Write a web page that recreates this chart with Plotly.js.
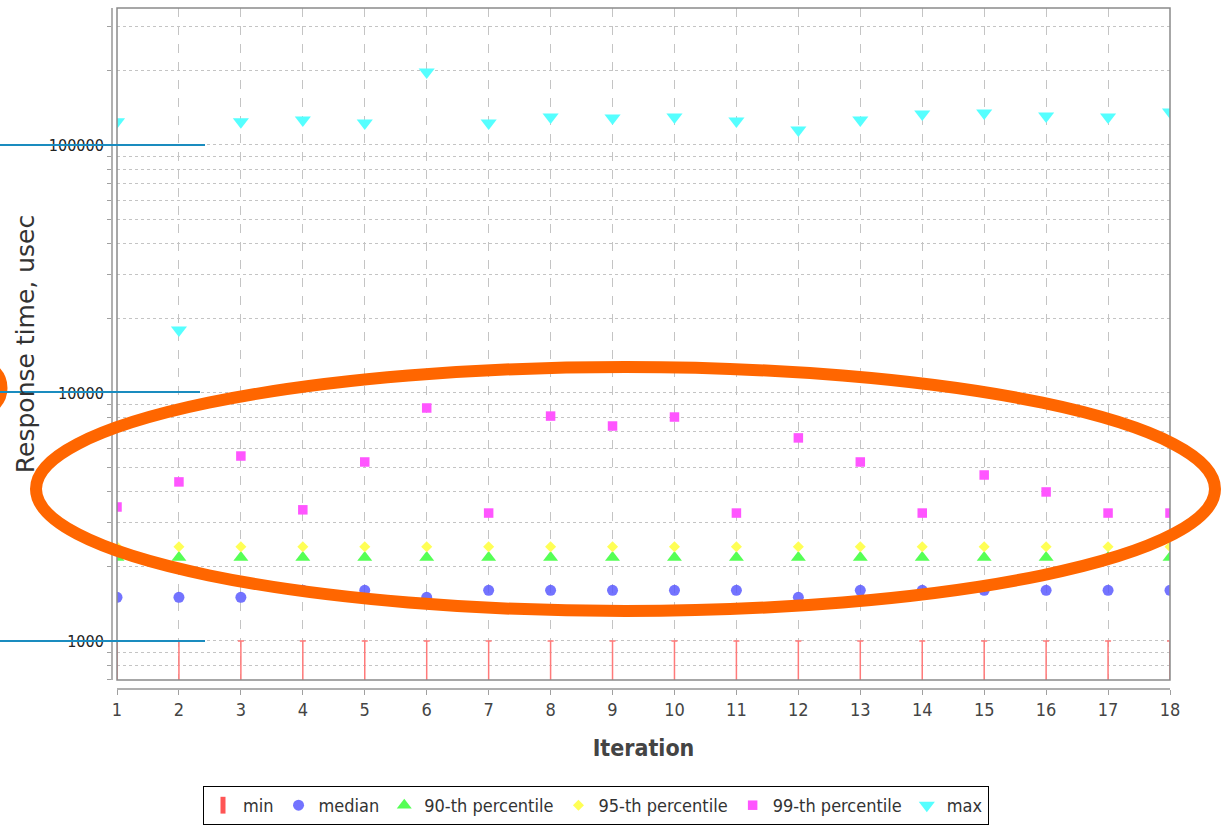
<!DOCTYPE html>
<html>
<head>
<meta charset="utf-8">
<script src="https://cdn.plot.ly/plotly-3.0.1.min.js"></script>
<style>
  html, body { margin: 0; padding: 0; background: #ffffff; }
  #chart { width: 1221px; height: 830px; }
</style>
</head>
<body>
<div id="chart"></div>
<script>
// Response-time percentiles per iteration (microseconds)
const iterations = [1, 2, 3, 4, 5, 6, 7, 8, 9, 10, 11, 12, 13, 14, 15, 16, 17, 18];
const minVals    = [1000, 1000, 1000, 1000, 1000, 1000, 1000, 1000, 1000, 1000, 1000, 1000, 1000, 1000, 1000, 1000, 1000, 1000];
const medianVals = [1500, 1500, 1500, 1600, 1600, 1500, 1600, 1600, 1600, 1600, 1600, 1500, 1600, 1600, 1600, 1600, 1600, 1600];
const p90Vals    = [2170, 2170, 2170, 2170, 2170, 2170, 2170, 2170, 2170, 2170, 2170, 2170, 2170, 2170, 2170, 2170, 2170, 2170];
const p95Vals    = [2400, 2400, 2400, 2400, 2400, 2400, 2400, 2400, 2400, 2400, 2400, 2400, 2400, 2400, 2400, 2400, 2400, 2400];
const p99Vals    = [3470, 4380, 5570, 3380, 5270, 8700, 3280, 8070, 7360, 8000, 3280, 6590, 5270, 3280, 4670, 3990, 3280, 3280];
const maxVals    = [124000, 17950, 124000, 126000, 122700, 196800, 122700, 129700, 128500, 129700, 125000, 114900, 126000, 133400, 134700, 130900, 129700, 135900];

const seriesNames = ['min', 'median', '90-th percentile', '95-th percentile', '99-th percentile', 'max'];
const xTickLabels = ['1', '2', '3', '4', '5', '6', '7', '8', '9', '10', '11', '12', '13', '14', '15', '16', '17', '18'];
const yLabelValues = [1000, 10000, 100000];
const yLabelTexts  = ['1000', '10000', '100000'];

// Log grid: a tick/gridline at every 1..9 multiple of each decade, labels only on decades
const yTickVals = [];
const yTickText = [];
[100, 1000, 10000, 100000].forEach(function (decade) {
  for (let k = 1; k <= 9; k++) {
    const v = k * decade;
    yTickVals.push(v);
    const idx = yLabelValues.indexOf(v);
    yTickText.push(idx >= 0 ? yLabelTexts[idx] : '');
  }
});

const COND = "'DejaVu Sans Condensed', 'Liberation Sans Narrow', 'DejaVu Sans', sans-serif";
const REG  = "'DejaVu Sans', sans-serif";

const C_RED = '#ff5555', C_BLUE = '#5a5aff', C_GREEN = '#55ff55',
      C_YELLOW = '#ffff55', C_MAGENTA = '#ff55ff', C_CYAN = '#55ffff';

const traces = [
  // legend entry for the min series (tall red bar symbol)
  {
    name: seriesNames[0], x: [null], y: [null], mode: 'markers', legendgroup: 'min',
    marker: { symbol: 'line-ns-open', size: 12, color: C_RED, line: { color: C_RED, width: 5 } }
  },
  // min series: cap at the value with a stem running down past the axis floor
  {
    name: seriesNames[0], x: iterations, y: minVals, mode: 'markers', legendgroup: 'min', showlegend: false,
    marker: { size: 1, color: 'rgba(0,0,0,0)' },
    error_y: {
      type: 'data', symmetric: false,
      array: minVals.map(function () { return 0; }),
      arrayminus: minVals.map(function (v) { return v / 2; }),
      color: '#ff7a7a', thickness: 1.5, width: 3
    }
  },
  {
    name: seriesNames[1], x: iterations, y: medianVals, mode: 'markers',
    marker: { symbol: 'circle', size: 11, color: C_BLUE, opacity: 0.85 }
  },
  {
    name: seriesNames[2], x: iterations, y: p90Vals, mode: 'markers',
    marker: { symbol: 'triangle-up', size: 13, color: C_GREEN }
  },
  {
    name: seriesNames[3], x: iterations, y: p95Vals, mode: 'markers',
    marker: { symbol: 'diamond', size: 8.5, color: C_YELLOW }
  },
  {
    name: seriesNames[4], x: iterations, y: p99Vals, mode: 'markers',
    marker: { symbol: 'square', size: 9.5, color: C_MAGENTA }
  },
  {
    name: seriesNames[5], x: iterations, y: maxVals, mode: 'markers',
    marker: { symbol: 'triangle-down', size: 14, color: C_CYAN }
  }
];

// Pixel helpers for the highlight overlay (paper coordinates)
const M = { l: 111, r: 51, t: 8, b: 142, autoexpand: false };
const PW = 1221 - M.l - M.r, PH = 830 - M.t - M.b;
function px(x) { return (x - M.l) / PW; }
function py(y) { return (830 - M.b - y) / PH; }

const ORANGE = '#ff6600';
const BLUE_LINE = '#1a8cbf';

const shapes = [
  // plot frame
  { type: 'rect', xref: 'x domain', yref: 'y domain', x0: 0, x1: 1, y0: 0, y1: 1,
    line: { color: '#8a8a8a', width: 1.5 }, layer: 'above' },
  // highlight ellipse around the percentile band
  { type: 'circle', xref: 'paper', yref: 'paper',
    x0: px(36), x1: px(1215), y0: py(611), y1: py(367),
    line: { color: ORANGE, width: 12 }, layer: 'above' },
  // partial circle at the left edge
  { type: 'circle', xref: 'paper', yref: 'paper',
    x0: px(-47), x1: px(3), y0: py(413), y1: py(363),
    line: { color: ORANGE, width: 9 }, layer: 'above' },
  // guide lines through the decade labels
  { type: 'line', xref: 'paper', yref: 'paper', x0: px(0), x1: px(205), y0: py(145), y1: py(145),
    line: { color: BLUE_LINE, width: 2 }, layer: 'above' },
  { type: 'line', xref: 'paper', yref: 'paper', x0: px(0), x1: px(200), y0: py(392), y1: py(392),
    line: { color: BLUE_LINE, width: 2 }, layer: 'above' },
  { type: 'line', xref: 'paper', yref: 'paper', x0: px(0), x1: px(205), y0: py(641), y1: py(641),
    line: { color: BLUE_LINE, width: 2 }, layer: 'above' }
];

const layout = {
  width: 1221, height: 830,
  margin: M,
  paper_bgcolor: '#ffffff', plot_bgcolor: '#ffffff',
  showlegend: true,
  hovermode: false,
  xaxis: {
    domain: [px(117), 1],
    anchor: 'free', position: 0,
    range: [1, 18],
    tickmode: 'array', tickvals: iterations, ticktext: xTickLabels,
    ticks: 'outside', ticklen: 5, tickcolor: '#a0a0a0', tickwidth: 1,
    showline: true, linecolor: '#b0b0b0', linewidth: 1.5,
    showgrid: true, gridcolor: '#c4c4c4', gridwidth: 1, griddash: 'dash',
    zeroline: false,
    tickfont: { family: COND, size: 18, color: '#444444' },
    title: { text: 'Iteration', standoff: 21,
             font: { family: COND, size: 23, color: '#444444', weight: 'bold' } }
  },
  yaxis: {
    domain: [py(680), 1],
    anchor: 'free', position: 0,
    type: 'log',
    range: [2.8427, 5.5524],
    tickmode: 'array', tickvals: yTickVals, ticktext: yTickText,
    ticks: 'outside', ticklen: 4, tickcolor: '#a0a0a0', tickwidth: 1,
    showline: true, linecolor: '#b0b0b0', linewidth: 1.5,
    showgrid: true, gridcolor: '#c4c4c4', gridwidth: 1, griddash: 'dot',
    zeroline: false,
    tickfont: { family: COND, size: 16, color: '#222222' },
    title: { text: 'Response time, usec', standoff: 5,
             font: { family: REG, size: 25, color: '#333333' } }
  },
  legend: {
    orientation: 'h',
    x: px(596), xanchor: 'center',
    y: py(786), yanchor: 'top',
    bgcolor: '#ffffff', bordercolor: '#000000', borderwidth: 1,
    font: { family: COND, size: 18, color: '#333333' },
    itemclick: false, itemdoubleclick: false
  },
  shapes: shapes
};

Plotly.newPlot('chart', traces, layout, { displayModeBar: false, staticPlot: true });
</script>
</body>
</html>
